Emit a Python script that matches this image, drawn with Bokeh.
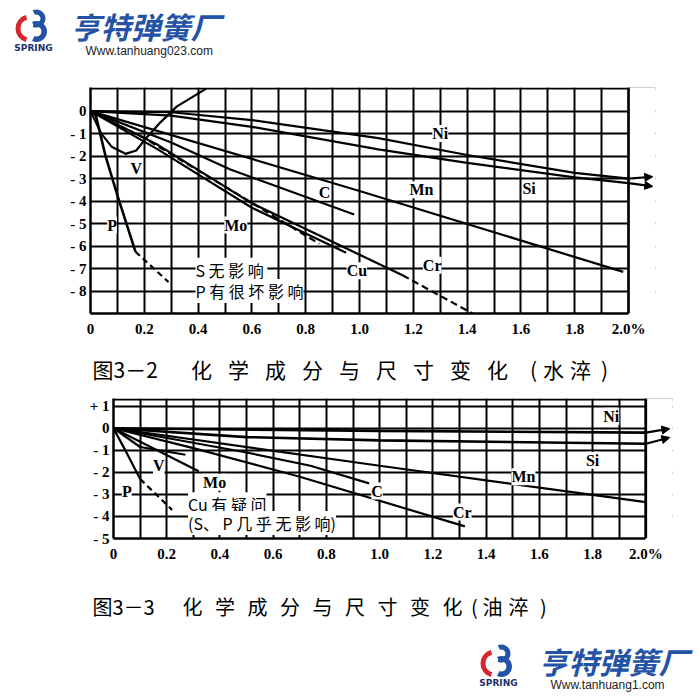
import math
from bokeh.plotting import figure
from bokeh.layouts import column
from bokeh.models import Range1d, FixedTicker, Label, Arrow, NormalHead, BoxAnnotation, Span
from bokeh.embed import file_html
from bokeh.resources import INLINE

# ---------------- shared axis ticks ----------------
X_MAX = 2.0
X_TICKS = [0, 0.2, 0.4, 0.6, 0.8, 1.0, 1.2, 1.4, 1.6, 1.8, 2.0]
X_TICK_LABELS = ["0", "0.2", "0.4", "0.6", "0.8", "1.0", "1.2", "1.4", "1.6", "1.8", "2.0%"]
X_MINOR = [0.1, 0.3, 0.5, 0.7, 0.9, 1.1, 1.3, 1.5, 1.7, 1.9]

# ---------------- Fig 3-2 (water quench) ----------------
W_Y_TICKS = [1, 0, -1, -2, -3, -4, -5, -6, -7, -8]
W_Y_LABELS = ["", "0", "- 1", "- 2", "- 3", "- 4", "- 5", "- 6", "- 7", "- 8"]

W_NI_X = [0, 0.3, 0.6, 1.07, 1.4, 1.8, 2.0]
W_NI_Y = [0, -0.05, -0.4, -1.2, -1.95, -2.75, -3.0]
W_SI_X = [0, 0.3, 0.6, 1.07, 1.4, 1.8, 2.0]
W_SI_Y = [0, -0.2, -0.7, -1.7, -2.3, -2.95, -3.2]
W_MN_X = [0, 1.0, 1.98]
W_MN_Y = [0, -3.55, -7.15]
W_C_X = [0, 0.3, 0.52, 0.98]
W_C_Y = [0, -1.4, -2.6, -4.6]
W_MO_X = [0, 0.2, 0.52, 0.85]
W_MO_Y = [0, -1.2, -3.5, -5.9]
W_CU_X = [0, 0.25, 0.6, 0.95]
W_CU_Y = [0, -1.7, -4.3, -6.3]
W_CR_X = [0, 0.25, 0.6, 1.16]
W_CR_Y = [0, -1.5, -4.1, -7.3]
W_CR_DASH_X = [1.16, 1.42]
W_CR_DASH_Y = [-7.3, -9.0]
W_V_X = [0, 0.04, 0.08, 0.13, 0.17, 0.2, 0.26, 0.32, 0.43]
W_V_Y = [0, -1.0, -1.6, -1.9, -1.75, -1.3, -0.5, 0.2, 1.0]
W_P_X = [0, 0.02, 0.056, 0.10, 0.167]
W_P_Y = [0, -0.2, -2.0, -3.75, -6.25]
W_P_DASH_X = [0.167, 0.29]
W_P_DASH_Y = [-6.25, -7.6]
W_NI_ARROW_END = (2.09, -2.92)
W_SI_ARROW_END = (2.09, -3.35)

W_NAMES = ["Ni", "Si", "Mn", "C", "Cr", "Cu", "Mo", "V", "P"]
W_NAME_X = [1.3, 1.63, 1.23, 0.87, 1.27, 0.99, 0.54, 0.17, 0.08]
W_NAME_Y = [-1.0, -3.45, -3.5, -3.6, -6.85, -7.1, -5.07, -2.55, -5.07]
W_NOTES = ["S  无 影 响", "P 有 很 坏 影 响"]
W_NOTE_X = [0.39, 0.39]
W_NOTE_Y = [-7.05, -8.0]

# ---------------- Fig 3-3 (oil quench) ----------------
O_Y_TICKS = [1.3, 1, 0, -1, -2, -3, -4, -5]
O_Y_LABELS = ["", "+ 1", "0", "- 1", "- 2", "- 3", "- 4", "- 5"]

O_NI_X = [0, 1.0, 2.0]
O_NI_Y = [0, -0.12, -0.2]
O_SI_X = [0, 0.5, 1.0, 2.0]
O_SI_Y = [0, -0.4, -0.55, -0.7]
O_MN_X = [0, 1.0, 2.0]
O_MN_Y = [0, -1.7, -3.35]
O_C_X = [0, 0.5, 0.74, 0.96]
O_C_Y = [0, -1.1, -1.7, -2.5]
O_CR_X = [0, 0.3, 0.7, 1.32]
O_CR_Y = [0, -0.9, -2.2, -4.45]
O_MO_X = [0, 0.32]
O_MO_Y = [0, -1.95]
O_V_X = [0, 0.1, 0.27]
O_V_Y = [0, -0.85, -1.2]
O_P_X = [0, 0.04, 0.1]
O_P_Y = [0, -0.9, -2.3]
O_P_DASH_X = [0.1, 0.22]
O_P_DASH_Y = [-2.3, -3.7]
O_NI_ARROW_END = (2.09, -0.02)
O_SI_ARROW_END = (2.09, -0.42)

O_NAMES = ["Ni", "Si", "Mn", "C", "Cr", "Mo", "P", "V"]
O_NAME_X = [1.87, 1.8, 1.54, 0.99, 1.31, 0.38, 0.05, 0.17]
O_NAME_Y = [0.55, -1.45, -2.2, -2.85, -3.8, -2.45, -2.85, -1.7]
O_NOTES = ["Cu 有 疑 问", "(S、 P 几 乎 无 影 响)"]
O_NOTE_X = [0.28, 0.28]
O_NOTE_Y = [-3.45, -4.3]

CAPTION_1 = "化学成分与尺寸变化(水淬)"
CAPTION_2 = "化学成分与尺寸变化(油淬)"

CJK = "Noto Sans CJK SC"
SERIF = "Liberation Serif"
BLUE = "#2452a6"
RED = "#d7262c"
W = 700
X_VIEW = 2.1   # visible x extent, so the arrows can run past the 2.0% border


def no_align(f):
    try:
        f.frame_align = False
    except Exception:
        pass


def chart(height, x0, unit_px, top, bottom, y_lo, y_hi, y_ticks, y_labels):
    frame_w = int(round(unit_px * X_VIEW))
    p = figure(width=W, height=height, x_range=Range1d(0, X_VIEW), y_range=Range1d(y_lo, y_hi),
               output_backend="svg", toolbar_location=None,
               min_border_left=x0, min_border_right=W - x0 - frame_w,
               min_border_top=top, min_border_bottom=bottom)
    no_align(p)
    p.outline_line_color = None
    p.background_fill_color = "white"
    p.border_fill_color = "white"
    p.xaxis.ticker = FixedTicker(ticks=X_TICKS, minor_ticks=X_MINOR)
    p.xaxis.major_label_overrides = dict(zip(X_TICKS, X_TICK_LABELS))
    p.xaxis.bounds = (0, X_MAX)
    p.yaxis.ticker = FixedTicker(ticks=y_ticks)
    p.yaxis.major_label_overrides = dict(zip(y_ticks, y_labels))
    for ax in (p.xaxis[0], p.yaxis[0]):
        ax.axis_line_width = 2.5
        ax.axis_line_color = "black"
        ax.major_tick_out = 0
        ax.major_tick_in = 0
        ax.minor_tick_out = 0
        ax.minor_tick_in = 0
        ax.major_label_text_font = SERIF
        ax.major_label_text_font_style = "bold"
        ax.major_label_text_font_size = "15px"
        ax.major_label_text_color = "black"
    p.xaxis.major_label_standoff = 7
    p.yaxis.major_label_standoff = 4
    p.xgrid.grid_line_color = "black"
    p.xgrid.grid_line_width = 2
    p.xgrid.minor_grid_line_color = "black"
    p.xgrid.minor_grid_line_width = 2
    p.ygrid.grid_line_color = "black"
    p.ygrid.grid_line_width = 2
    # blank out the grid beyond the 2.0 % border, then draw the border itself
    p.add_layout(BoxAnnotation(left=X_MAX, fill_color="white", fill_alpha=1.0,
                               line_color=None, level="underlay"))
    p.add_layout(Span(location=X_MAX, dimension="height", line_color="black", line_width=2.5,
                      level="underlay"))
    return p


def add_line(p, xs, ys, dash="solid", width=2.2):
    p.line(xs, ys, line_color="black", line_width=width, line_dash=dash)


def add_arrow(p, xs, ys, end):
    p.add_layout(Arrow(x_start=xs[-1], y_start=ys[-1], x_end=end[0], y_end=end[1],
                       line_color="black", line_width=2.2,
                       end=NormalHead(size=8, fill_color="black", line_color="black")))


def add_names(p, names, xs, ys, size="16px"):
    for t, x, y in zip(names, xs, ys):
        p.add_layout(Label(x=x, y=y, text=t, text_align="center", text_baseline="middle",
                           text_font=SERIF, text_font_style="bold", text_font_size=size,
                           text_color="black", background_fill_color="white"))


def add_notes(p, notes, xs, ys):
    for t, x, y in zip(notes, xs, ys):
        p.add_layout(Label(x=x, y=y, text=t, text_align="left", text_baseline="middle",
                           text_font=CJK, text_font_size="16px", text_color="black",
                           background_fill_color="white"))


# ---------------- chart 1 ----------------
p1 = chart(275, 90, 269, 17, 32, -9, 1.05, W_Y_TICKS, W_Y_LABELS)
add_line(p1, W_NI_X, W_NI_Y)
add_line(p1, W_SI_X, W_SI_Y)
add_line(p1, W_MN_X, W_MN_Y)
add_line(p1, W_C_X, W_C_Y)
add_line(p1, W_MO_X, W_MO_Y, dash="7 4")
add_line(p1, W_CU_X, W_CU_Y)
add_line(p1, W_CR_X, W_CR_Y)
add_line(p1, W_CR_DASH_X, W_CR_DASH_Y, dash="7 4")
add_line(p1, W_V_X, W_V_Y)
add_line(p1, W_P_X, W_P_Y, width=2.6)
add_line(p1, W_P_DASH_X, W_P_DASH_Y, dash="6 4")
add_arrow(p1, W_NI_X, W_NI_Y, W_NI_ARROW_END)
add_arrow(p1, W_SI_X, W_SI_Y, W_SI_ARROW_END)
add_names(p1, W_NAMES, W_NAME_X, W_NAME_Y)
add_notes(p1, W_NOTES, W_NOTE_X, W_NOTE_Y)
for t, y in zip(["指", "数"], [-2.73, -5.2]):
    p1.add_layout(Label(x=-0.108, y=y, text=t, text_align="center", text_baseline="middle",
                        text_font=CJK, text_font_style="bold", text_font_size="18px"))

# ---------------- chart 2 ----------------
p2 = chart(180, 113, 266, 10, 30, -5, 1.35, O_Y_TICKS, O_Y_LABELS)
add_line(p2, O_NI_X, O_NI_Y, width=2.6)
add_line(p2, O_SI_X, O_SI_Y, width=2.6)
add_line(p2, O_MN_X, O_MN_Y)
add_line(p2, O_C_X, O_C_Y)
add_line(p2, O_CR_X, O_CR_Y)
add_line(p2, O_MO_X, O_MO_Y)
add_line(p2, O_V_X, O_V_Y)
add_line(p2, O_P_X, O_P_Y)
add_line(p2, O_P_DASH_X, O_P_DASH_Y, dash="6 4")
add_arrow(p2, O_NI_X, O_NI_Y, O_NI_ARROW_END)
add_arrow(p2, O_SI_X, O_SI_Y, O_SI_ARROW_END)
add_notes(p2, O_NOTES, O_NOTE_X, O_NOTE_Y)
add_names(p2, O_NAMES, O_NAME_X, O_NAME_Y)
for t, y in zip(["指", "数"], [-0.74, -3.27]):
    p2.add_layout(Label(x=-0.188, y=y, text=t, text_align="center", text_baseline="middle",
                        text_font=CJK, text_font_style="bold", text_font_size="18px"))


# ---------------- text strips (coordinates = page pixels) ----------------
def strip(top, height):
    f = figure(width=W, height=height, x_range=Range1d(0, W), y_range=Range1d(top + height, top),
               output_backend="svg", toolbar_location=None, min_border=0,
               x_axis_type=None, y_axis_type=None)
    no_align(f)
    for g in f.grid:
        g.visible = False
    f.outline_line_color = None
    f.background_fill_color = "white"
    f.border_fill_color = "white"
    return f


def txt(f, x, y, t, font, size, color="black", style="normal", align="left"):
    f.add_layout(Label(x=x, y=y, text=t, text_font=font, text_font_size=size,
                       text_color=color, text_font_style=style, text_align=align,
                       text_baseline="middle"))


def logo(f, cx, cy, brand_x, url_x, url, brand_y, url_y):
    d = math.pi / 180
    f.annular_wedge(x=[cx - 3], y=[cy + 3], inner_radius=9, outer_radius=14,
                    start_angle=105 * d, end_angle=255 * d,
                    fill_color=RED, line_color=None)
    f.annular_wedge(x=[cx + 4, cx + 4], y=[cy - 7, cy + 6], inner_radius=[4, 5], outer_radius=[9, 10.5],
                    start_angle=-115 * d, end_angle=115 * d,
                    fill_color=BLUE, line_color=None)
    txt(f, cx + 1, cy + 22, "SPRING", "DejaVu Sans", "9px", color="#1c2f6b", style="bold", align="center")
    txt(f, brand_x, brand_y, "亨特弹簧厂", CJK, "30px", color=BLUE, style="bold italic")
    txt(f, url_x, url_y, url, "Liberation Sans", "12px", color="#222222")


header = strip(0, 70)
logo(header, 32, 25, 70, 85, "Www.tanhuang023.com", 25, 50)

mid = strip(345, 43)
txt(mid, 92, 368, "图3－2", CJK, "21px")
for i, ch in enumerate(CAPTION_1):
    if i < 9:
        cx = 201 + 37 * i
    else:
        cx = [533, 553, 580, 604][i - 9]
    txt(mid, cx, 368, ch, CJK, "21px", align="center")

bottom = strip(568, 130)
txt(bottom, 92, 606, "图3－3", CJK, "20px")
for i, ch in enumerate(CAPTION_2):
    if i < 9:
        cx = 192 + 32.5 * i
    else:
        cx = [474, 492, 518, 543][i - 9]
    txt(bottom, cx, 606, ch, CJK, "20px", align="center")
logo(bottom, 497, 660, 538, 550, "Www.tanhuang1.com", 660, 684)

page = column(header, p1, mid, p2, bottom, spacing=0)
open("out.html", "w").write(file_html(page, INLINE))
